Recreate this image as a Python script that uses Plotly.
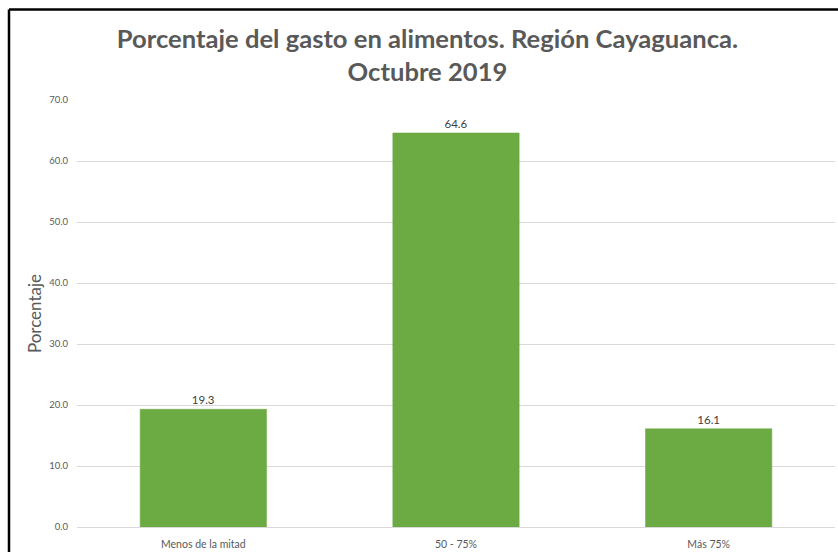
import plotly.graph_objects as go

categories = ["Menos de la mitad", "50 - 75%", "Más 75%"]
values = [19.3, 64.6, 16.1]
y_ticks = [0, 10, 20, 30, 40, 50, 60, 70]
y_ticklabels = ["0.0", "10.0", "20.0", "30.0", "40.0", "50.0", "60.0", "70.0"]
title_text = "Porcentaje del gasto en alimentos. Región Cayaguanca.<br>Octubre 2019"
y_title = "Porcentaje"

W, H = 838, 552
ml, mr, mt, mb = 77, 3, 100, 25
pw, ph = W - ml - mr, H - mt - mb

def px_x(x):
    return (x - ml) / pw

def px_y(y):
    return (H - mb - y) / ph

fig = go.Figure()
fig.add_trace(go.Bar(
    x=categories, y=values,
    marker=dict(color="#6cab43", line=dict(color="#68a640", width=0.5)),
    text=[f"{v:.1f}" for v in values],
    textposition="outside",
    textfont=dict(family="Lato, sans-serif", size=11.5, color="#404040"),
    cliponaxis=False,
))

fig.update_layout(
    width=W, height=H,
    margin=dict(l=ml, r=mr, t=mt, b=mb, autoexpand=False),
    paper_bgcolor="white", plot_bgcolor="white",
    bargap=0.5,
    showlegend=False,
    font=dict(family="Lato, sans-serif", color="#595959"),
    title=dict(text=title_text, x=427.5 / W, xanchor="center", xref="container",
               y=1 - 48 / H, yanchor="top",
               font=dict(family="Lato, sans-serif", size=25.6, color="#595959", weight="bold")),
    xaxis=dict(showgrid=False, showline=False, ticks="",
               ticklabelstandoff=9,
               tickfont=dict(size=10.5, color="#595959"), automargin=False),
    yaxis=dict(range=[0, 70], tickvals=y_ticks, ticktext=y_ticklabels,
               showgrid=True, gridcolor="#d9d9d9", gridwidth=1,
               zeroline=True, zerolinecolor="#d9d9d9", zerolinewidth=1,
               showline=False, ticks="", automargin=False,
               ticklabelstandoff=8,
               tickfont=dict(size=9.5, color="#595959"),
               title=dict(text=y_title, standoff=3,
                          font=dict(size=17, color="#595959"))),
    shapes=[
        dict(type="line", xref="paper", yref="paper",
             x0=px_x(9), x1=px_x(845), y0=px_y(9.5), y1=px_y(9.5),
             line=dict(color="black", width=2.5)),
        dict(type="line", xref="paper", yref="paper",
             x0=px_x(9), x1=px_x(9), y0=px_y(9.5), y1=px_y(560),
             line=dict(color="black", width=2.5)),
    ],
)

fig.write_html("out.html",
               config={"displayModeBar": False},
               post_script="document.body.style.margin='0';document.body.style.overflow='hidden';")
